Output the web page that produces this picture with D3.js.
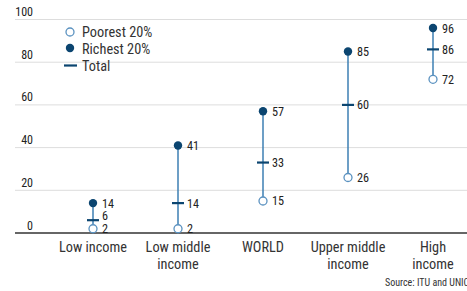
<!DOCTYPE html>
<html><head><meta charset="utf-8">
<script src="https://cdn.jsdelivr.net/npm/d3@7"></script>
<style>
body{margin:0;background:#fff;}
svg{font-family:"Roboto Condensed","Liberation Sans Narrow","DejaVu Sans Condensed",Roboto,sans-serif;}
</style></head><body>
<svg id="c" width="467" height="291"></svg>
<script>
const categories = [["Low income"],["Low middle","income"],["WORLD"],["Upper middle","income"],["High","income"]];
const poorest = [2, 2, 15, 26, 72];
const richest = [14, 41, 57, 85, 96];
const total = [6, 14, 33, 60, 86];
const yTicks = [0, 20, 40, 60, 80, 100];
const legendLabels = ["Poorest 20%", "Richest 20%", "Total"];

const svg = d3.select("#c");
const W = 467, H = 291;
const darkBlue = "#0b4570", lineBlue = "#3d7fb3", openBlue = "#5b92c0", textCol = "#222";
const y = d3.scaleLinear().domain([0, 100]).range([233, 19.5]);
const x = d3.scaleBand().domain(d3.range(categories.length)).range([50.5, 475.5]);
const cx = i => x(i) + x.bandwidth() / 2;

// grid
const g = svg.append("g");
yTicks.forEach(t => {
  g.append("line").attr("x1", 15).attr("x2", W).attr("y1", y(t)).attr("y2", y(t))
    .attr("stroke", t === 0 ? "#333" : "#ddd").attr("stroke-width", t === 0 ? 1.3 : 1);
  g.append("text").attr("x", 33).attr("y", y(t) - 3.5).text(t).attr("text-anchor", "end")
    .attr("font-size", 12).attr("fill", textCol);
});

// category labels
categories.forEach((lines, i) => {
  const t = svg.append("text").attr("text-anchor", "middle").attr("font-size", 14.3).attr("fill", "#333");
  lines.forEach((l, j) => t.append("tspan").attr("x", cx(i)).attr("y", 252 + j * 17).text(l));
});

// dumbbells
categories.forEach((c, i) => {
  const X = cx(i);
  svg.append("line").attr("x1", X).attr("x2", X).attr("y1", y(poorest[i])).attr("y2", y(richest[i]))
    .attr("stroke", lineBlue).attr("stroke-width", 1.5);
  svg.append("line").attr("x1", X - 6).attr("x2", X + 6).attr("y1", y(total[i])).attr("y2", y(total[i]))
    .attr("stroke", darkBlue).attr("stroke-width", 2.2);
  svg.append("circle").attr("cx", X).attr("cy", y(poorest[i])).attr("r", 4)
    .attr("fill", "#fff").attr("stroke", openBlue).attr("stroke-width", 1.3);
  svg.append("circle").attr("cx", X).attr("cy", y(richest[i])).attr("r", 4.2).attr("fill", darkBlue);
  const yp = y(poorest[i]) + 4.5;
  let yt = y(total[i]) + 4.5;
  if (yp - yt < 13) yt = yp - 13;
  [[richest[i], y(richest[i]) + 4.5], [total[i], yt], [poorest[i], yp]].forEach(([v, yy]) => {
    svg.append("text").attr("x", X + 9).attr("y", yy).text(v)
      .attr("font-size", 12.2).attr("fill", textCol);
  });
});

// legend
const lg = svg.append("g");
lg.append("circle").attr("cx", 70).attr("cy", 32).attr("r", 4).attr("fill", "#fff").attr("stroke", openBlue).attr("stroke-width", 1.3);
lg.append("circle").attr("cx", 70).attr("cy", 48).attr("r", 4.2).attr("fill", darkBlue);
lg.append("line").attr("x1", 64).attr("x2", 77).attr("y1", 65.5).attr("y2", 65.5).attr("stroke", darkBlue).attr("stroke-width", 2.2);
legendLabels.forEach((l, j) => {
  lg.append("text").attr("x", 82).attr("y", 37 + j * 17).text(l).attr("font-size", 14.3).attr("fill", "#333");
});

svg.append("text").attr("x", 385).attr("y", 286).text("Source: ITU and UNICEF")
  .attr("font-size", 10).attr("fill", "#333");
</script>
</body></html>
